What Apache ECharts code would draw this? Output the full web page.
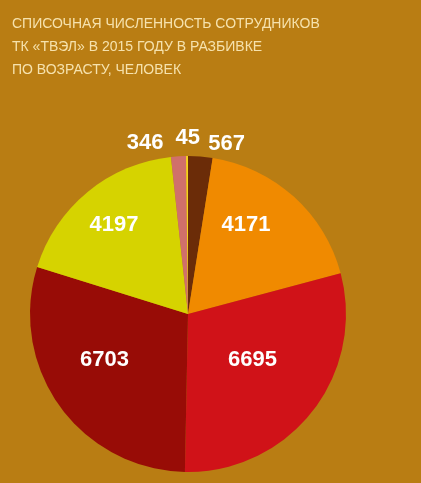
<!DOCTYPE html>
<html>
<head>
<meta charset="utf-8">
<script src="https://cdn.jsdelivr.net/npm/echarts@6/dist/echarts.min.js"></script>
<style>
  html, body { margin: 0; padding: 0; background: #b97d13; }
  #chart { width: 421px; height: 483px; }
</style>
</head>
<body>
<div id="chart"></div>
<script>
// age groups (clockwise from top), headcount
var groups = ['g1', 'g2', 'g3', 'g4', 'g5', 'g6', 'g7'];
var counts = [567, 4171, 6695, 6703, 4197, 346, 45];
var colors = ['#6b2c08', '#f08a00', '#d01218', '#980c06', '#d6d300', '#d0706a', '#f6d21e'];
// small slices get their label outside
var outside = [true, false, false, false, false, true, true];
// label nudges, px
var nudgeX = [3, 3, 0, -17, -22, -10, 18];
var nudgeY = [-13, -28, -5, -2, -26, -13, -18];

var titleLines = [
  'СПИСОЧНАЯ ЧИСЛЕННОСТЬ СОТРУДНИКОВ',
  'ТК «ТВЭЛ» В 2015 ГОДУ В РАЗБИВКЕ',
  'ПО ВОЗРАСТУ, ЧЕЛОВЕК'
];

var chart = echarts.init(document.getElementById('chart'));

var seriesData = counts.map(function (v, i) {
  return {
    name: groups[i],
    value: v,
    itemStyle: { color: colors[i] },
    label: { position: outside[i] ? 'outside' : 'inside' }
  };
});

var option = {
  backgroundColor: '#b97d13',
  animation: false,
  title: {
    text: titleLines.join('\n'),
    left: 7,
    top: 8,
    textStyle: {
      color: '#f6e2ad',
      fontFamily: 'Liberation Sans',
      fontWeight: 'normal',
      fontSize: 14,
      lineHeight: 23
    }
  },
  series: [
    {
      type: 'pie',
      center: [188, 314],
      radius: [0, 158],
      startAngle: 90,
      clockwise: true,
      avoidLabelOverlap: false,
      data: seriesData,
      label: {
        show: true,
        formatter: '{c}',
        color: '#ffffff',
        fontFamily: 'Liberation Sans',
        fontWeight: 'bold',
        fontSize: 22
      },
      labelLine: { show: false, length: 0, length2: 0 },
      labelLayout: function (params) {
        return { dx: nudgeX[params.dataIndex], dy: nudgeY[params.dataIndex] };
      },
      emphasis: { disabled: true }
    }
  ]
};

chart.setOption(option);
</script>
</body>
</html>
